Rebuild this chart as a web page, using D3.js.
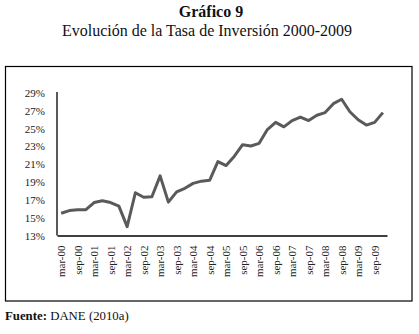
<!DOCTYPE html>
<html>
<head>
<meta charset="utf-8">
<script src="https://cdn.jsdelivr.net/npm/d3@7"></script>
<style>
  body { margin: 0; background: #fff; }
  text { font-family: "Liberation Serif", "Times New Roman", serif; }
</style>
</head>
<body>
<script>
// quarters mar-00 .. dic-09
var years = ["00","01","02","03","04","05","06","07","08","09"];
var months = ["mar","jun","sep","dic"];
var quarters = [];
years.forEach(function(y){ months.forEach(function(m){ quarters.push(m + "-" + y); }); });

// tasa de inversion (%), one value per quarter
var tasa = [15.5, 15.8, 15.9, 15.9, 16.7, 16.9, 16.7, 16.3,
            14.0, 17.8, 17.3, 17.35, 19.7, 16.75, 17.9, 18.3,
            18.85, 19.1, 19.2, 21.3, 20.85, 21.9, 23.2, 23.05,
            23.35, 24.9, 25.7, 25.2, 25.9, 26.3, 25.9, 26.5,
            26.8, 27.8, 28.3, 26.9, 26.0, 25.4, 25.7, 26.8];

var yTicks = [13, 15, 17, 19, 21, 23, 25, 27, 29];
var xTicks = quarters.filter(function(q){ return q.indexOf("mar") == 0 || q.indexOf("sep") == 0; });

var width = 419, height = 334;

var svg = d3.select("body").append("svg")
  .attr("width", width)
  .attr("height", height);

svg.append("rect").attr("width", width).attr("height", height).attr("fill", "#fff");

// titles
svg.append("text")
  .attr("x", 211).attr("y", 17)
  .attr("text-anchor", "middle")
  .attr("font-size", "16px")
  .attr("font-weight", "bold")
  .style("fill", "#111")
  .text("Gráfico 9");

svg.append("text")
  .attr("x", 207).attr("y", 36)
  .attr("text-anchor", "middle")
  .attr("font-size", "16px")
  .style("fill", "#111")
  .text("Evolución de la Tasa de Inversión 2000-2009");

// frame
svg.append("rect")
  .attr("x", 5.5).attr("y", 66.5)
  .attr("width", 406.5).attr("height", 234.5)
  .attr("fill", "none")
  .attr("stroke", "#000")
  .attr("stroke-width", 1.2);

var x = d3.scalePoint().domain(quarters).range([57, 387]).padding(0.5);
var y = d3.scaleLinear().domain([13, 29]).range([235.5, 93]);

var xAxis = svg.append("g")
  .attr("transform", "translate(0,235.5)")
  .call(d3.axisBottom(x).tickValues(xTicks).tickSize(0).tickSizeOuter(0));
xAxis.select(".domain").attr("stroke", "#000").attr("stroke-width", 1.3);
xAxis.selectAll("text")
  .attr("transform", "rotate(-90)")
  .attr("text-anchor", "end")
  .attr("x", -10)
  .attr("y", 0)
  .attr("dy", "0.35em")
  .attr("font-size", "11px")
  .style("font-family", "Liberation Serif")
  .style("fill", "#222");

var yAxis = svg.append("g")
  .attr("transform", "translate(57,0)")
  .call(d3.axisLeft(y).tickValues(yTicks).tickSize(0).tickPadding(12)
    .tickFormat(function(d){ return d + "%"; }));
yAxis.select(".domain").attr("stroke", "#000").attr("stroke-width", 1.3)
  .attr("d", "M0,92V235.5");
yAxis.selectAll("text")
  .attr("font-size", "11px")
  .style("font-family", "Liberation Serif")
  .style("fill", "#222");

var line = d3.line()
  .x(function(d, i){ return x(quarters[i]); })
  .y(function(d){ return y(d); });

svg.append("path")
  .datum(tasa)
  .attr("d", line)
  .attr("fill", "none")
  .attr("stroke", "#5a5a5a")
  .attr("stroke-width", 3)
  .attr("stroke-linejoin", "round");

// source
var src = svg.append("text")
  .attr("x", 5).attr("y", 320)
  .attr("font-size", "12.8px")
  .style("fill", "#111");
src.append("tspan").attr("font-weight", "bold").text("Fuente:");
src.append("tspan").text(" DANE (2010a)");
</script>
</body>
</html>
